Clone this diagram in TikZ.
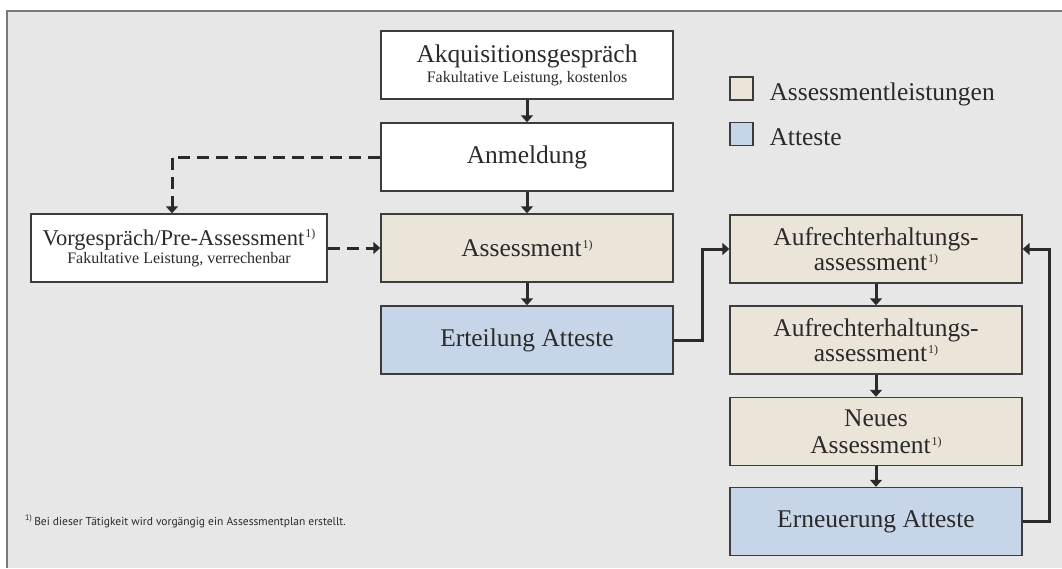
\documentclass[tikz,border=0pt]{standalone}
\usepackage{fontspec}
\setmainfont{Liberation Serif}
\newfontfamily\notefont{PT Sans}
\usetikzlibrary{arrows.meta}
\definecolor{panelbg}{HTML}{E7E7E7}
\definecolor{panelline}{HTML}{7A7A7A}
\definecolor{beige}{HTML}{EBE5D9}
\definecolor{attblue}{HTML}{C6D5E7}
\definecolor{boxline}{HTML}{3C3C3C}
\definecolor{ink}{HTML}{2A2A2A}
\tikzset{
  box/.style={draw=boxline, line width=1.4pt, fill=white, minimum width=292pt, minimum height=68pt, align=center, inner sep=0pt, text=ink},
  assbox/.style={box, fill=beige},
  attbox/.style={box, fill=attblue},
  legbox/.style={draw=boxline, line width=1.2pt, minimum size=23pt, inner sep=0pt},
  arr/.style={draw=ink, line width=3pt, -{Triangle[width=12pt,length=7pt]}},
  dasharr/.style={arr, dash pattern=on 12pt off 7pt},
  big/.style={font=\fontsize{25.5}{22}\selectfont},
}
\newcommand{\fn}{\kern1pt\raisebox{7.5pt}{\fontsize{12}{12}\selectfont 1)}}
\newcommand{\subl}[1]{{\fontsize{16}{19}\selectfont #1}}
\begin{document}
\begin{tikzpicture}[x=1pt,y=-1pt]
\useasboundingbox (0,0) rectangle (1062,568);
\fill[white] (0,0) rectangle (1062,568);
\fill[panelbg] (7,11) rectangle (1062,568);
\draw[panelline, line width=1.5pt] (1062,11) -- (7,11) -- (7,568);

\node[box, big] (akq) at (527,65) {Akquisitionsgespräch\\[-2pt]\subl{Fakultative Leistung, kostenlos}};
\node[box, big] (anm) at (527,157) {Anmeldung};
\node[assbox, big] (ass) at (527,248) {Assessment\fn};
\node[attbox, big] (ert) at (527,340) {Erteilung Atteste};
\node[box, font=\fontsize{22.5}{20}\selectfont, minimum width=296pt] (vor) at (179,248) {Vorgespräch/Pre-Assessment\fn\\[-2pt]\subl{Fakultative Leistung, verrechenbar}};

\node[assbox, big] (a1) at (876,249) {Aufrechterhaltungs-\\[3pt]assessment\fn};
\node[assbox, big] (a2) at (876,340) {Aufrechterhaltungs-\\[3pt]assessment\fn};
\node[assbox, big] (neu) at (876,431.5) {Neues\\[5pt]Assessment\fn};
\node[attbox, big] (ern) at (876,521.5) {Erneuerung Atteste};

\node[legbox, fill=beige] (lb1) at (741.5,88.5) {};
\node[legbox, fill=attblue] (lb2) at (741.5,134) {};
\node[anchor=base west, big, text=ink] (lt1) at (766,100) {Assessmentleistungen};
\node[anchor=base west, big, text=ink] (lt2) at (766,145) {Atteste};

\node[anchor=base west, font=\notefont\fontsize{11.5}{13}\selectfont, text=ink, inner sep=0pt] (note) at (25,525) {\textsuperscript{1)}\,Bei dieser Tätigkeit wird vorgängig ein Assessmentplan erstellt.};

\draw[arr] (akq.south) -- (anm.north);
\draw[arr] (anm.south) -- (ass.north);
\draw[arr] (ass.south) -- (ert.north);
\draw[dasharr] (anm.west) -| ([xshift=-7pt]vor.north);
\draw[dasharr] (vor.east) -- (ass.west);
\draw[arr] (ert.east) -- ++(29,0) |- (a1.west);
\draw[arr] (a1.south) -- (a2.north);
\draw[arr] (a2.south) -- (neu.north);
\draw[arr] (neu.south) -- (ern.north);
\draw[arr] (ern.east) -- ++(27,0) |- (a1.east);
\end{tikzpicture}
\end{document}
